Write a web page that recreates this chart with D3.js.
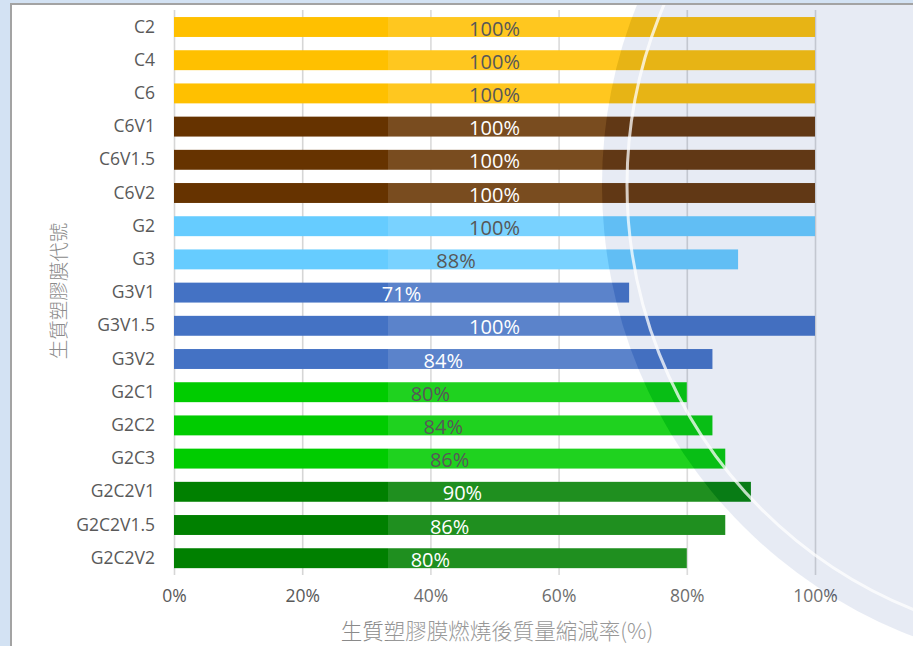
<!DOCTYPE html>
<html>
<head>
<meta charset="utf-8">
<script src="https://cdn.jsdelivr.net/npm/d3@7"></script>
<style>
  html, body { margin: 0; padding: 0; background: #d3e2f3; }
  svg { display: block; }
  text { font-family: "Open Sans", "Noto Sans", sans-serif; }
  .cjk { font-family: "Noto Sans CJK TC", "Noto Sans CJK SC", sans-serif; }
</style>
</head>
<body>
<svg id="chart" width="913" height="646"></svg>
<script>
// Film codes, top to bottom
const categories = ["C2", "C4", "C6", "C6V1", "C6V1.5", "C6V2", "G2", "G3", "G3V1", "G3V1.5", "G3V2",
                    "G2C1", "G2C2", "G2C3", "G2C2V1", "G2C2V1.5", "G2C2V2"];
// Mass reduction after burning (fraction)
const values = [1.00, 1.00, 1.00, 1.00, 1.00, 1.00, 1.00, 0.88, 0.71, 1.00, 0.84,
                0.80, 0.84, 0.86, 0.90, 0.86, 0.80];
// Material family of each film
const families = ["C", "C", "C", "CV", "CV", "CV", "G", "G", "GV", "GV", "GV",
                  "GC", "GC", "GC", "GCV", "GCV", "GCV"];
const familyNames = ["C", "CV", "G", "GV", "GC", "GCV"];
const familyColors = ["#FFC000", "#663300", "#66CCFF", "#4472C4", "#00CC00", "#008000"];
const labelColors = ["#404040", "#ffffff", "#404040", "#ffffff", "#404040", "#ffffff"];
const tickValues = [0, 0.2, 0.4, 0.6, 0.8, 1.0];
const xTitle = "生質塑膠膜燃燒後質量縮減率(%)";
const yTitle = "生質塑膠膜代號";

const svg = d3.select("#chart");
const W = 913, H = 646;

const fill = d3.scaleOrdinal(familyNames, familyColors);
const labelFill = d3.scaleOrdinal(familyNames, labelColors);

const x = d3.scaleLinear().domain([0, 1]).range([174, 815]);
const y = d3.scaleBand().domain(categories).range([10.4, 574.8]).paddingInner(0.4).paddingOuter(0.2);

// Chart panel with its frame
svg.append("rect").attr("x", 11).attr("y", 4).attr("width", W).attr("height", H)
  .attr("fill", "#ffffff").attr("stroke", "#a3a3a3").attr("stroke-width", 2);

// Vertical gridlines
svg.append("g")
  .attr("transform", `translate(0,${575})`)
  .call(d3.axisBottom(x).tickValues(tickValues).tickSize(-565).tickFormat(""))
  .call(g => g.select(".domain").remove())
  .call(g => g.selectAll(".tick line").attr("stroke", "#d6d6d6").attr("stroke-width", 1.6));

// Bars
svg.append("g").selectAll("rect")
  .data(categories)
  .join("rect")
  .attr("x", x(0))
  .attr("y", d => y(d))
  .attr("width", (d, i) => x(values[i]) - x(0))
  .attr("height", y.bandwidth())
  .attr("fill", (d, i) => fill(families[i]));

// Value labels centred in each bar
svg.append("g").selectAll("text")
  .data(categories)
  .join("text")
  .attr("x", (d, i) => (x(0) + x(values[i])) / 2)
  .attr("y", d => y(d) + y.bandwidth() / 2 + 1)
  .attr("text-anchor", "middle")
  .attr("dominant-baseline", "central")
  .attr("font-size", 20)
  .attr("fill", (d, i) => labelFill(families[i]))
  .text((d, i) => d3.format(".0%")(values[i]));

// Category axis labels
svg.append("g")
  .attr("transform", `translate(${x(0)},0)`)
  .call(d3.axisLeft(y).tickSize(0).tickPadding(19))
  .call(g => g.select(".domain").remove())
  .call(g => g.selectAll("text").attr("font-size", 17.5).attr("fill", "#595959")
    .attr("font-family", "'Open Sans', 'Noto Sans', sans-serif"));

// Percentage axis labels
svg.append("g")
  .attr("transform", `translate(0,${587})`)
  .call(d3.axisBottom(x).tickValues(tickValues).tickSize(0).tickPadding(3).tickFormat(d3.format(".0%")))
  .call(g => g.select(".domain").remove())
  .call(g => g.selectAll("text").attr("font-size", 17.5).attr("fill", "#595959")
    .attr("font-family", "'Open Sans', 'Noto Sans', sans-serif"));

// Axis titles
svg.append("text").attr("class", "cjk")
  .attr("x", 497).attr("y", 629)
  .attr("text-anchor", "middle").attr("dominant-baseline", "central")
  .attr("font-size", 21.5).attr("font-weight", 300).attr("fill", "#8a8a8a")
  .text(xTitle);

svg.append("text").attr("class", "cjk")
  .attr("transform", "translate(57,291) rotate(-90)")
  .attr("text-anchor", "middle").attr("dominant-baseline", "central")
  .attr("font-size", 19.5).attr("font-weight", 300).attr("fill", "#8a8a8a")
  .text(yTitle);

// Seal watermark overlay: pale band, tinted disc and a thin white ring
const sealX = 1085, sealY = 185, sealR = 483, ringR = 458;
const defs = svg.append("defs");
const mask = defs.append("mask").attr("id", "band-mask");
mask.append("rect").attr("x", 388).attr("y", 0).attr("width", W).attr("height", H).attr("fill", "#fff");
mask.append("circle").attr("cx", sealX).attr("cy", sealY).attr("r", sealR).attr("fill", "#000");

const mark = svg.append("g").attr("pointer-events", "none");
mark.append("rect").attr("x", 388).attr("y", 0).attr("width", W).attr("height", H)
  .attr("fill", "#ffffff").attr("opacity", 0.12).attr("mask", "url(#band-mask)");

mark.append("circle").attr("cx", sealX).attr("cy", sealY).attr("r", sealR)
  .attr("fill", "#4262a8").attr("opacity", 0.125);

mark.append("circle").attr("cx", sealX).attr("cy", sealY).attr("r", ringR)
  .attr("fill", "none").attr("stroke", "#ffffff").attr("stroke-width", 3).attr("opacity", 0.75);

// Frame edge redrawn above the overlay
svg.append("rect").attr("x", 0).attr("y", 0).attr("width", W).attr("height", 3).attr("fill", "#d3e2f3");
svg.append("rect").attr("x", 0).attr("y", 0).attr("width", 10).attr("height", H).attr("fill", "#d3e2f3");
svg.append("line").attr("x1", 11).attr("x2", W).attr("y1", 4).attr("y2", 4).attr("stroke", "#a3a3a3").attr("stroke-width", 2);
</script>
</body>
</html>
